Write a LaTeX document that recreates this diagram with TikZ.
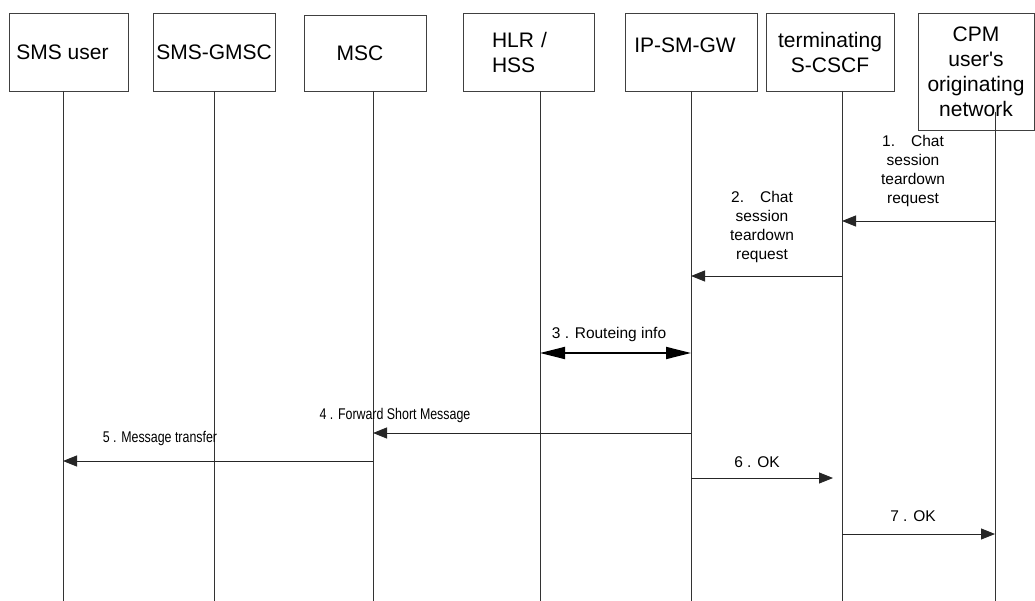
\documentclass[tikz,border=0pt]{standalone}
\usepackage{fontspec}
\setmainfont{Liberation Sans}
\newfontfamily\narrowsans[FakeStretch=0.8]{Liberation Sans}
\usetikzlibrary{arrows.meta}
\begin{document}
\begin{tikzpicture}[x=1pt,y=-1pt,
		box/.style={draw=black!75, line width=0.8pt, minimum height=78pt, inner sep=0pt, align=center, font=\fontsize{21}{25}\selectfont},
		lifeline/.style={draw=black!80, line width=0.9pt},
		msg/.style={draw=black!85, line width=0.9pt, -{Triangle[length=14pt,width=11pt]}},
		lbl/.style={inner sep=0pt, align=center, font=\fontsize{15.5}{18.7}\selectfont}]
		\useasboundingbox (0,0) rectangle (1035,601);
		% entities
		\node[box, minimum width=119pt] (smsuser) at (68.5,52) {SMS user\hspace*{12pt}};
		\node[box, minimum width=122pt] (gmsc) at (214,52) {SMS-GMSC};
		\node[box, minimum width=122pt, minimum height=76pt] (msc) at (365,53) {MSC\hspace*{10pt}};
		\node[box, text width=73pt, align=left, inner xsep=29pt] (hlr) at (528.5,52) {HLR /\\HSS};
		\node[box, minimum width=132pt] (ipsmgw) at (691,52) {IP-SM-GW\hspace*{12pt}\\[-12pt]};
		\node[box, minimum width=128pt] (scscf) at (830,52) {terminating\\S-CSCF};
		\node[box, minimum width=116pt, minimum height=117pt] (cpm) at (976,71.5) {CPM\\user\textquotesingle s\\originating\\network};
		% lifelines
		\foreach \name/\x/\y in {smsuser/63/91, gmsc/214/91, msc/373/91, hlr/540/91, ipsmgw/691/91, scscf/842/91, cpm/995/112}
		{
			\coordinate (\name-top) at (\x,\y);
			\coordinate (\name-bot) at (\x,601);
			\draw[lifeline] (\name-top) -- (\name-bot);
		}
		% messages
		\draw[msg] (cpm-top |- 0,221) -- (scscf-top |- 0,221);
		\node[lbl] (l1) at (913,171) {1.\hspace{16pt}Chat\\session\\teardown\\request};
		\draw[msg] (scscf-top |- 0,276) -- (ipsmgw-top |- 0,276);
		\node[lbl] (l2) at (762,227) {2.\hspace{16pt}Chat\\session\\teardown\\request};
		\draw[draw=black, line width=1.8pt, {Triangle[length=25pt,width=12pt]}-{Triangle[length=25pt,width=12pt]}] (hlr-top |- 0,353) -- (ipsmgw-top |- 0,353);
		\node[lbl] (l3) at (609,334) {3 . Routeing info};
		\draw[msg] (ipsmgw-top |- 0,433) -- (msc-top |- 0,433);
		\node[lbl, font=\fontsize{15.5}{18.7}\narrowsans] (l4) at (395,415) {4 . Forward Short Message};
		\draw[msg] (msc-top |- 0,461) -- (smsuser-top |- 0,461);
		\node[lbl, font=\fontsize{15.5}{18.7}\narrowsans] (l5) at (160,438) {5 . Message transfer};
		\draw[msg, shorten >=9pt] (ipsmgw-top |- 0,478) -- (scscf-top |- 0,478);
		\node[lbl] (l6) at (757,462) {6 . OK};
		\draw[msg] (scscf-top |- 0,534) -- (cpm-top |- 0,534);
		\node[lbl] (l7) at (913,516) {7 . OK};
\end{tikzpicture}
\end{document}
